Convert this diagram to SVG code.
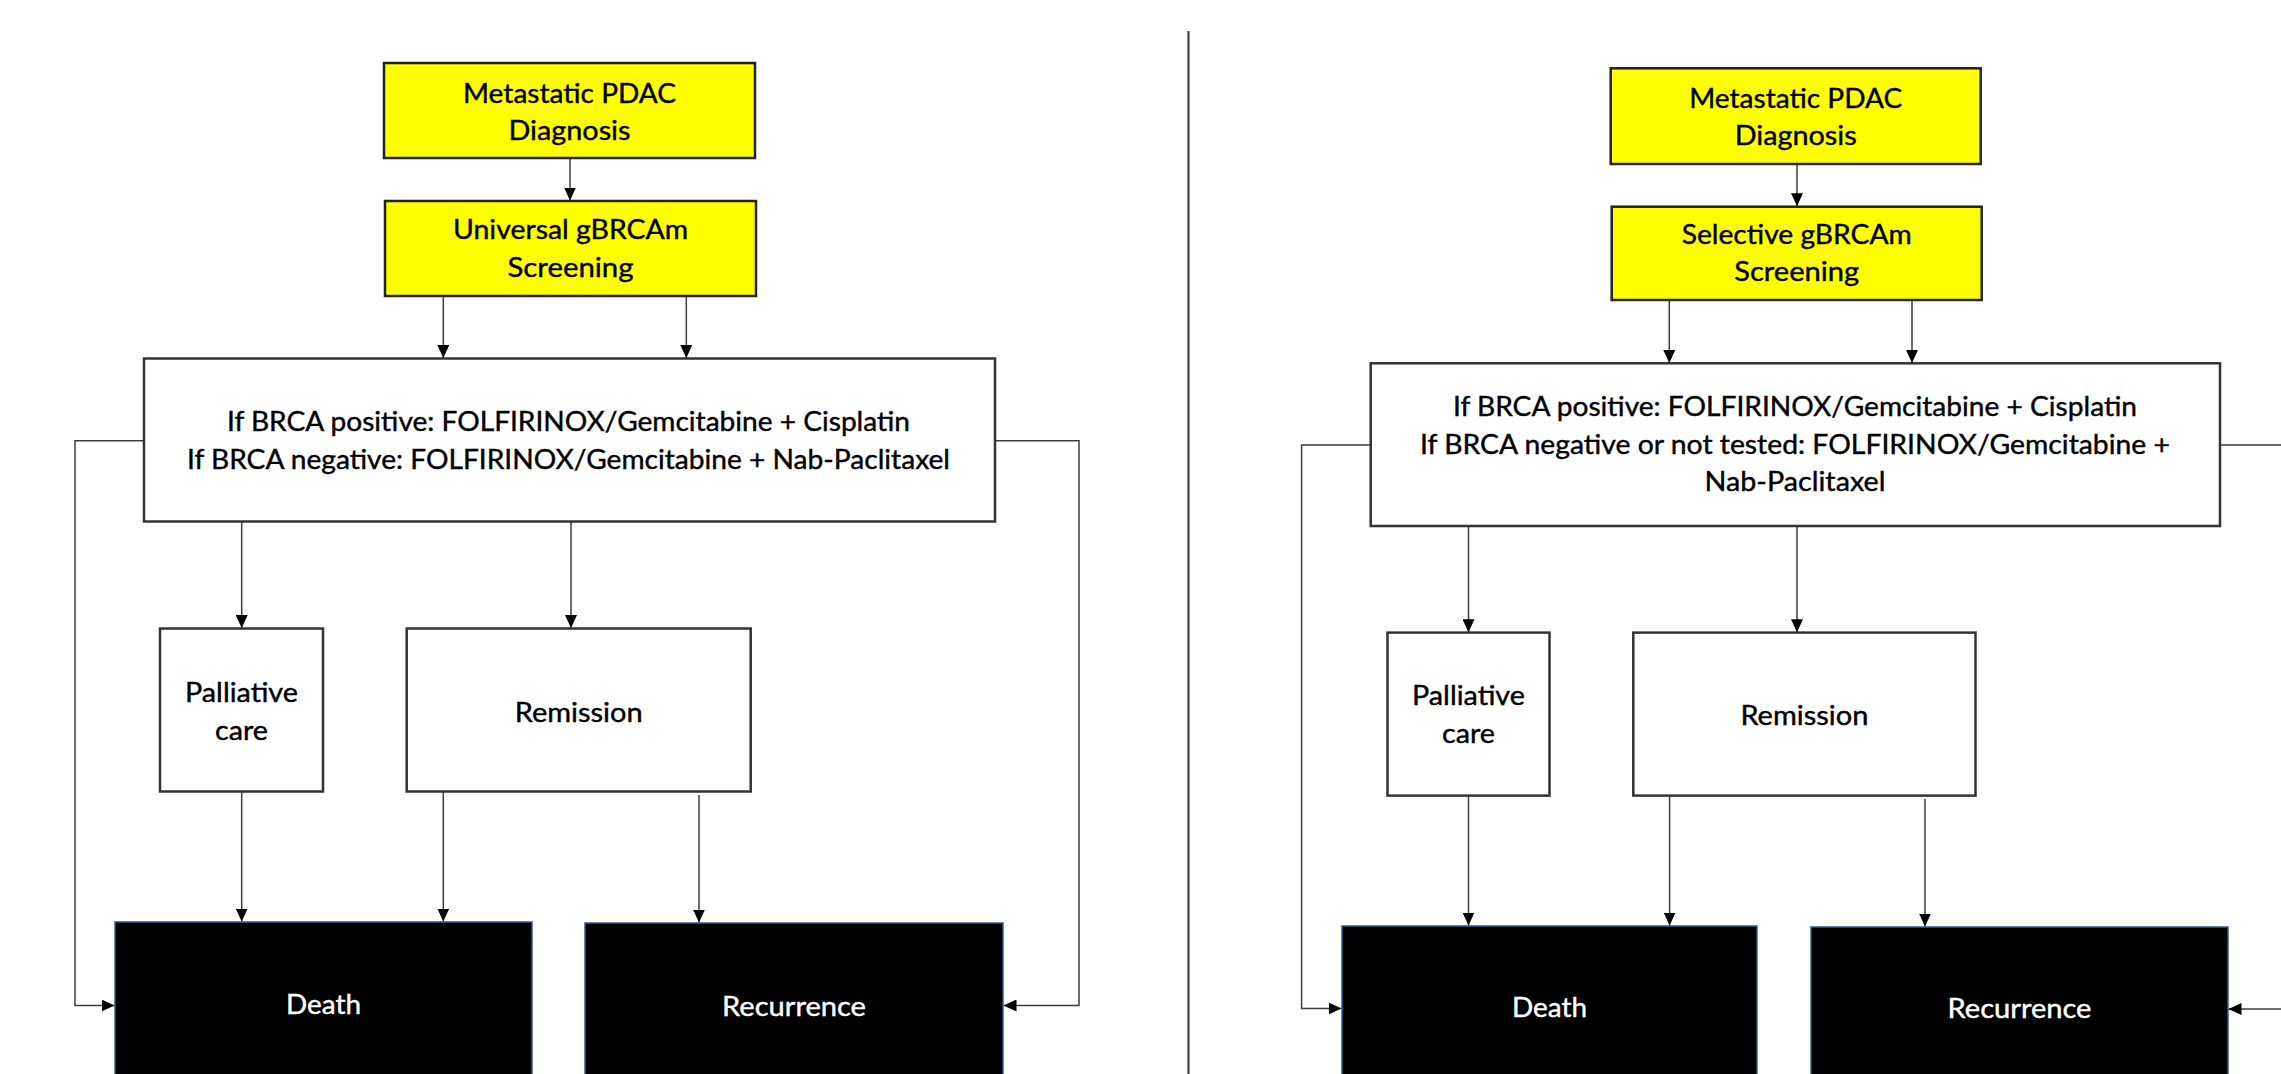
<svg xmlns="http://www.w3.org/2000/svg" width="2281" height="1074" viewBox="0 0 2281 1074">
<style>
  text { font-family: Lato, "Liberation Sans", sans-serif; font-size: 27px; text-anchor: middle; fill: #000; stroke: #000; stroke-width: 0.4; }
  .yellow { fill: #ffff00; stroke: #222; stroke-width: 2.5; }
  .white { fill: #fff; stroke: #333; stroke-width: 2.5; }
  .dark { fill: #000; stroke: #3a5a8c; stroke-width: 1.5; }
  text.dark-text { fill: #fff; stroke: #fff; }
  .conn { fill: none; stroke: #3c3c3c; stroke-width: 1.5; marker-end: url(#ah); }
  .divider { stroke: #333; stroke-width: 2; }
</style>
<defs>
  <marker id="ah" viewBox="0 0 13 12" refX="13" refY="6" markerWidth="13" markerHeight="12" markerUnits="userSpaceOnUse" orient="auto">
    <path d="M0,0 L13,6 L0,12 z" fill="#000"/>
  </marker>
</defs>
<rect width="2281" height="1074" fill="#fff"/>
<line class="divider" x1="1188.5" y1="31" x2="1188.5" y2="1074"/>

<!-- LEFT PANEL -->
<g id="connectors-left">
  <path class="conn" d="M570,158 V200.5"/>
  <path class="conn" d="M443.3,296 V358"/>
  <path class="conn" d="M686.3,296 V358"/>
  <path class="conn" d="M241.7,521.7 V628"/>
  <path class="conn" d="M571,521.7 V628"/>
  <path class="conn" d="M241.7,791.7 V921.5"/>
  <path class="conn" d="M443.3,791.7 V921.5"/>
  <path class="conn" d="M699,795 V922.5"/>
  <path class="conn" d="M144,440.7 H75 V1005.5 H114.5"/>
  <path class="conn" d="M995,440.7 H1079 V1005.5 H1003.5"/>
</g>
<g id="left-diagnosis">
  <rect class="yellow" x="384" y="63" width="371" height="95"/>
  <text x="569.5" y="102.7" textLength="213" lengthAdjust="spacingAndGlyphs">Metastatic PDAC</text>
  <text x="569.5" y="140" textLength="122" lengthAdjust="spacingAndGlyphs">Diagnosis</text>
</g>
<g id="left-screening">
  <rect class="yellow" x="385" y="201" width="371" height="95"/>
  <text x="570.5" y="239.3" textLength="235" lengthAdjust="spacingAndGlyphs">Universal gBRCAm</text>
  <text x="570.5" y="277.3" textLength="126" lengthAdjust="spacingAndGlyphs">Screening</text>
</g>
<g id="left-treatment">
  <rect class="white" x="144" y="358.5" width="851" height="163"/>
  <text x="568.5" y="431" textLength="683" lengthAdjust="spacingAndGlyphs">If BRCA positive: FOLFIRINOX/Gemcitabine + Cisplatin</text>
  <text x="568.5" y="469" textLength="763" lengthAdjust="spacingAndGlyphs">If BRCA negative: FOLFIRINOX/Gemcitabine + Nab-Paclitaxel</text>
</g>
<g id="left-palliative">
  <rect class="white" x="160" y="628.5" width="163" height="163"/>
  <text x="241.5" y="701.7" textLength="113" lengthAdjust="spacingAndGlyphs">Palliative</text>
  <text x="241.5" y="740" textLength="53" lengthAdjust="spacingAndGlyphs">care</text>
</g>
<g id="left-remission">
  <rect class="white" x="406.7" y="628.5" width="344" height="163"/>
  <text x="578.7" y="721.7" textLength="128" lengthAdjust="spacingAndGlyphs">Remission</text>
</g>
<g id="left-death">
  <rect class="dark" x="115" y="922" width="417" height="170"/>
  <text class="dark-text" x="323.5" y="1014" textLength="75" lengthAdjust="spacingAndGlyphs">Death</text>
</g>
<g id="left-recurrence">
  <rect class="dark" x="585" y="923" width="418" height="170"/>
  <text class="dark-text" x="794" y="1015.5" textLength="144" lengthAdjust="spacingAndGlyphs">Recurrence</text>
</g>

<!-- RIGHT PANEL -->
<g id="connectors-right">
  <path class="conn" d="M1797,164 V206.2"/>
  <path class="conn" d="M1669.3,300 V363"/>
  <path class="conn" d="M1912,300 V363"/>
  <path class="conn" d="M1468.5,526 V632.3"/>
  <path class="conn" d="M1797,526 V632.3"/>
  <path class="conn" d="M1468.5,795.6 V925.5"/>
  <path class="conn" d="M1669.6,795.6 V925.5"/>
  <path class="conn" d="M1925,799 V926.5"/>
  <path class="conn" d="M1370.7,445 H1301.6 V1008.5 H1341.5"/>
  <path class="conn" d="M2220,445 H2305 V1009 H2228.5"/>
</g>
<g id="right-diagnosis">
  <rect class="yellow" x="1610.7" y="68.3" width="370" height="95.7"/>
  <text x="1795.7" y="108.3" textLength="213" lengthAdjust="spacingAndGlyphs">Metastatic PDAC</text>
  <text x="1795.7" y="145" textLength="122" lengthAdjust="spacingAndGlyphs">Diagnosis</text>
</g>
<g id="right-screening">
  <rect class="yellow" x="1611.7" y="206.7" width="370" height="93.3"/>
  <text x="1796.7" y="244" textLength="230" lengthAdjust="spacingAndGlyphs">Selective gBRCAm</text>
  <text x="1796.7" y="280.7" textLength="125" lengthAdjust="spacingAndGlyphs">Screening</text>
</g>
<g id="right-treatment">
  <rect class="white" x="1370.7" y="363.3" width="849.3" height="162.7"/>
  <text x="1795" y="416" textLength="684" lengthAdjust="spacingAndGlyphs">If BRCA positive: FOLFIRINOX/Gemcitabine + Cisplatin</text>
  <text x="1795" y="454" textLength="750" lengthAdjust="spacingAndGlyphs">If BRCA negative or not tested: FOLFIRINOX/Gemcitabine +</text>
  <text x="1795" y="491" textLength="181" lengthAdjust="spacingAndGlyphs">Nab-Paclitaxel</text>
</g>
<g id="right-palliative">
  <rect class="white" x="1387.5" y="632.6" width="162" height="163"/>
  <text x="1468.5" y="705" textLength="113" lengthAdjust="spacingAndGlyphs">Palliative</text>
  <text x="1468.5" y="743.3" textLength="53" lengthAdjust="spacingAndGlyphs">care</text>
</g>
<g id="right-remission">
  <rect class="white" x="1633.3" y="632.6" width="342.2" height="163"/>
  <text x="1804.4" y="725" textLength="128" lengthAdjust="spacingAndGlyphs">Remission</text>
</g>
<g id="right-death">
  <rect class="dark" x="1342" y="926" width="415" height="170"/>
  <text class="dark-text" x="1549.5" y="1017" textLength="75" lengthAdjust="spacingAndGlyphs">Death</text>
</g>
<g id="right-recurrence">
  <rect class="dark" x="1811" y="927" width="417" height="170"/>
  <text class="dark-text" x="2019.5" y="1018" textLength="144" lengthAdjust="spacingAndGlyphs">Recurrence</text>
</g>
</svg>
